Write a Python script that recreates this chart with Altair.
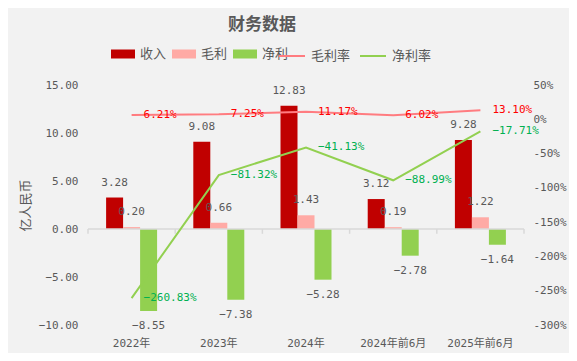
import altair as alt
import pandas as pd

cats = ["2022年", "2023年", "2024年", "2024年前6月", "2025年前6月"]
bar_series = ["收入", "毛利", "净利"]
revenue = [3.28, 9.08, 12.83, 3.12, 9.28]
gross = [0.20, 0.66, 1.43, 0.19, 1.22]
net = [-8.55, -7.38, -5.28, -2.78, -1.64]
line_series = ["毛利率", "净利率"]
gross_margin = [6.21, 7.25, 11.17, 6.02, 13.10]
net_margin = [-260.83, -81.32, -41.13, -88.99, -17.71]

bar_colors = ["#c00000", "#ffaaa5", "#92d050"]
line_colors = ["#ff7c80", "#92d050"]
label_colors = ["#ff0000", "#00b050"]

rows = []
for s, vals in zip(bar_series, [revenue, gross, net]):
    for c, v in zip(cats, vals):
        rows.append({"cat": c, "series": s, "value": v})
df_bars = pd.DataFrame(rows)

lrows = []
for s, vals in zip(line_series, [gross_margin, net_margin]):
    for c, v in zip(cats, vals):
        lrows.append({"cat": c, "series": s, "value": v})
df_lines = pd.DataFrame(lrows)

FONT = "DejaVu Sans Mono, Noto Sans CJK SC"
GRAY = "#595959"
AXC = "#d9d9d9"

x_axis = alt.Axis(title=None, domain=False, ticks=False, labelAngle=0, labelPadding=12,
                  labelFontSize=11, labelColor=GRAY, labelFont=FONT)
x_enc = alt.X("cat:N", sort=cats, scale=alt.Scale(paddingInner=0, paddingOuter=0), axis=x_axis)
# two empty slots on either side keep the three bars narrow and centred in each band
offset_domain = ["_l"] + bar_series + ["_r"]
xo_enc = alt.XOffset("series:N",
                     scale=alt.Scale(domain=offset_domain, paddingInner=0, paddingOuter=0.065))

left_axis = alt.Axis(title="亿人民币", values=[-10, -5, 0, 5, 10, 15], format=".2f", grid=False,
                     ticks=False, domain=False, labelPadding=10, labelFontSize=11, labelColor=GRAY,
                     labelFont=FONT, titleFont="Noto Sans CJK SC", titleFontSize=13,
                     titleFontWeight="normal", titleColor=GRAY, titlePadding=6)
left_scale = alt.Scale(domain=[-10, 15], nice=False, zero=False)

right_axis = alt.Axis(title=None, orient="right", values=list(range(-300, 51, 50)),
                      labelExpr="datum.value + '%'", grid=False, ticks=False, domain=False,
                      labelPadding=9, labelFontSize=11, labelColor=GRAY, labelFont=FONT)
right_scale = alt.Scale(domain=[-300, 50], nice=False, zero=False)

base_b = alt.Chart(df_bars)

zero_line = alt.Chart(pd.DataFrame({"value": [0]})).mark_rule(color=AXC, strokeWidth=1.5).encode(
    y=alt.Y("value:Q", scale=left_scale, axis=left_axis),
    x=alt.value(0), x2=alt.value(436))

tick_marks = alt.Chart(pd.DataFrame({"cat": cats})).mark_rule(color=AXC, strokeWidth=1.5).encode(
    x=alt.X("cat:N", sort=cats, bandPosition=0, axis=x_axis),
    y=alt.datum(0, scale=left_scale, axis=left_axis), y2=alt.datum(-0.5))
end_tick = alt.Chart(pd.DataFrame({"cat": cats[-1:]})).mark_rule(color=AXC, strokeWidth=1.5).encode(
    x=alt.X("cat:N", sort=cats, bandPosition=1, axis=x_axis),
    y=alt.datum(0, scale=left_scale, axis=left_axis), y2=alt.datum(-0.5))

bars = base_b.mark_bar().encode(
    x=x_enc, xOffset=xo_enc,
    y=alt.Y("value:Q", scale=left_scale, axis=left_axis),
    fill=alt.Fill("series:N", sort=bar_series,
                  scale=alt.Scale(domain=bar_series, range=bar_colors),
                  legend=alt.Legend(title=None, orient="none", legendX=23, legendY=-43,
                                    direction="horizontal",
                                    symbolType="M-1,-0.375H1V0.375H-1Z", symbolSize=576,
                                    symbolStrokeWidth=0, symbolOpacity=1,
                                    labelFont="Noto Sans CJK SC", labelFontSize=13,
                                    labelColor=GRAY, columnPadding=5, labelOffset=5)))

pos_labels = base_b.transform_filter("datum.value >= 0").mark_text(
    dy=-15, fontSize=11, font=FONT, color=GRAY, baseline="middle").encode(
    x=x_enc, xOffset=xo_enc,
    y=alt.Y("value:Q", scale=left_scale, axis=left_axis),
    text=alt.Text("value:Q", format=".2f"))
neg_labels = base_b.transform_filter("datum.value < 0").mark_text(
    dy=15, fontSize=11, font=FONT, color=GRAY, baseline="middle").encode(
    x=x_enc, xOffset=xo_enc,
    y=alt.Y("value:Q", scale=left_scale, axis=left_axis),
    text=alt.Text("value:Q", format=".2f"))

left_layer = alt.layer(bars, zero_line, tick_marks, end_tick, pos_labels, neg_labels)

base_l = alt.Chart(df_lines)
lines = base_l.mark_line(strokeWidth=2).encode(
    x=alt.X("cat:N", sort=cats, bandPosition=0.5, axis=x_axis),
    y=alt.Y("value:Q", scale=right_scale, axis=right_axis),
    detail="series:N",
    stroke=alt.Stroke("series:N", sort=line_series,
                      scale=alt.Scale(domain=line_series, range=line_colors),
                      legend=alt.Legend(title=None, orient="none", legendX=190, legendY=-43,
                                        direction="horizontal", symbolType="stroke",
                                        symbolSize=676, symbolStrokeWidth=2,
                                        labelFont="Noto Sans CJK SC", labelFontSize=13,
                                        labelColor=GRAY, columnPadding=5, labelOffset=5)))
line_labels = base_l.mark_text(dx=12, align="left", baseline="middle", fontSize=11, font=FONT).encode(
    x=alt.X("cat:N", sort=cats, bandPosition=0.5, axis=x_axis),
    y=alt.Y("value:Q", scale=right_scale, axis=right_axis),
    text=alt.Text("label:N"),
    color=alt.Color("series:N", sort=line_series,
                    scale=alt.Scale(domain=line_series, range=label_colors), legend=None)
).transform_calculate(label="format(datum.value, '.2f') + '%'")

right_layer = alt.layer(lines, line_labels)

chart = alt.layer(left_layer, right_layer).resolve_scale(y="independent").properties(
    width=436, height=240,
    autosize=alt.AutoSizeParams(type="none"),
    padding={"left": 80, "top": 77, "right": 45, "bottom": 28},
    background="#f2f2f2",
    title=alt.TitleParams("财务数据", anchor="middle", dx=-44, fontSize=17, fontWeight="bold",
                          color=GRAY, font="Noto Sans CJK SC", offset=8),
).configure_view(stroke=None)

chart.save("out.html", embed_options={"renderer": "svg", "actions": False})
